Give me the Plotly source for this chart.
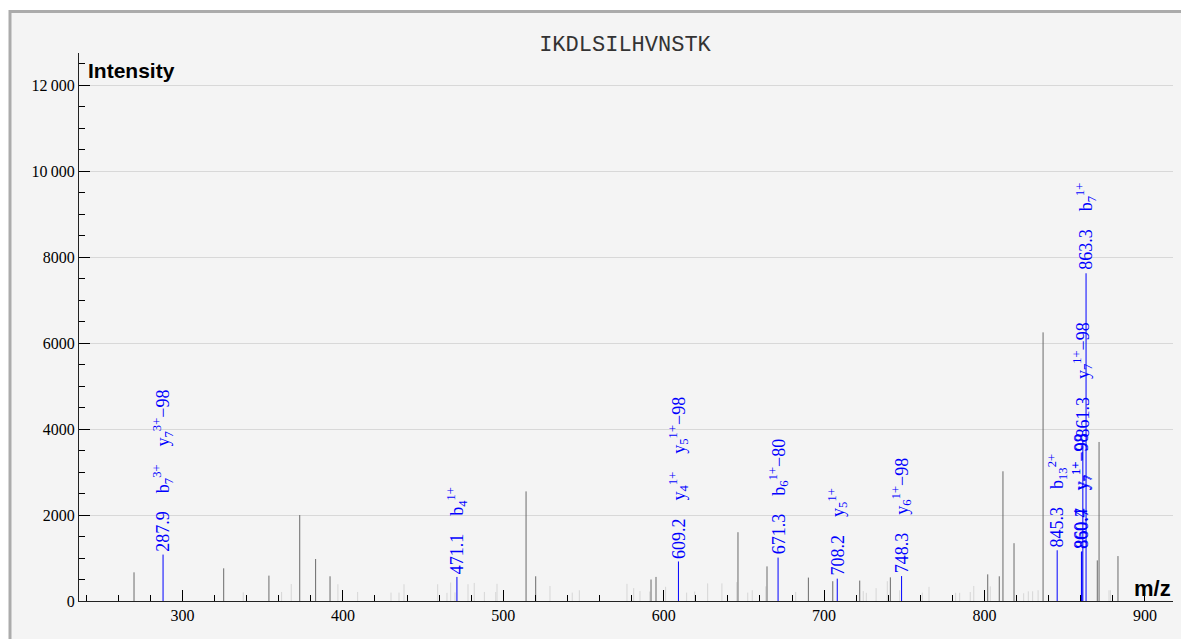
import plotly.graph_objects as go

# ---------------- data ----------------
title_text = "IKDLSILHVNSTK"

mz_dark = [269.8, 325.7, 353.9, 373.1, 383.0, 392.0, 514.2, 520.2, 592.1, 595.2,
           646.3, 664.4, 690.2, 705.4, 722.2, 741.3, 802.0, 809.2, 811.5, 818.4,
           836.5, 870.3, 871.4, 883.2]
int_dark = [667, 760, 590, 2000, 977, 575, 2550, 575, 500, 560,
            1600, 805, 545, 460, 475, 550, 620, 575, 3018, 1345,
            6250, 945, 3700, 1045]

mz_light = [337.9, 361.8, 367.8, 396.9, 409.2, 430.0, 435.0, 438.1, 459.1, 464.9,
            467.2, 469.9, 478.0, 481.9, 488.2, 495.3, 496.1, 529.1, 543.0, 547.4,
            577.1, 581.3, 585.2, 591.3, 601.2, 614.3, 619.3, 627.4, 636.3, 645.5,
            652.4, 655.2, 663.6, 682.3, 724.4, 726.3, 732.4, 739.4, 747.1, 761.2,
            765.4, 782.0, 784.5, 791.1, 793.3, 803.6, 824.4, 827.3, 830.0, 833.4,
            877.6, 878.5]
int_light = [200, 210, 395, 390, 210, 195, 195, 390, 390, 190,
             430, 200, 390, 420, 210, 210, 400, 350, 195, 250,
             400, 300, 230, 220, 330, 195, 220, 410, 410, 440,
             195, 250, 340, 210, 230, 190, 300, 460, 250, 195,
             330, 190, 190, 210, 350, 340, 180, 225, 225, 250,
             250, 250]

mz_lab = [287.9, 471.1, 609.2, 671.3, 708.2, 748.3, 845.3, 860.4, 860.7, 861.3, 863.3]
int_lab = [1080, 560, 920, 1010, 520, 580, 1180, 1140, 1160, 3740, 7625]
ions_lab = [
    ["b<sub>7</sub><sup>3+</sup>", "y<sub>7</sub><sup>3+</sup>−98"],
    ["b<sub>4</sub><sup>1+</sup>"],
    ["y<sub>4</sub><sup>1+</sup>", "y<sub>5</sub><sup>1+</sup>−98"],
    ["b<sub>6</sub><sup>1+</sup>−80"],
    ["y<sub>5</sub><sup>1+</sup>"],
    ["y<sub>6</sub><sup>1+</sup>−98"],
    ["b<sub>13</sub><sup>2+</sup>"],
    ["y<sub>7</sub><sup>1+</sup>−98"],
    ["y<sub>7</sub><sup>1+</sup>−98"],
    ["y<sub>7</sub><sup>1+</sup>−98"],
    ["b<sub>7</sub><sup>1+</sup>"],
]

x_ticks_step = 100
y_ticks_step = 2000

# ---------------- figure ----------------
W, H = 1181, 639
L, R, T, B = 79, 8, 53, 38
PW, PH = W - L - R, H - T - B


def px_x(p):
    return (p - L) / PW


def px_y(p):
    return (H - B - p) / PH


def sticks(mz, inten):
    xs, ys = [], []
    for m, h in zip(mz, inten):
        xs += [m, m, None]
        ys += [0, h, None]
    return xs, ys


fig = go.Figure()
for mz, it, col in [(mz_light, int_light, "#d6d6d6"),
                    (mz_dark, int_dark, "#6a6a6a"),
                    (mz_lab, int_lab, "#0000ff")]:
    xs, ys = sticks(mz, it)
    fig.add_trace(go.Scatter(x=xs, y=ys, mode="lines",
                             line=dict(color=col, width=1),
                             hoverinfo="skip", showlegend=False))

gap = "\u00a0" * 4
for m, h, ions in zip(mz_lab, int_lab, ions_lab):
    txt = f"{m:.1f}" + gap + gap.join(ions)
    fig.add_annotation(x=m, y=h, xref="x", yref="y", text=txt, showarrow=False,
                       textangle=-90, xanchor="center", yanchor="bottom", yshift=1,
                       font=dict(family="Liberation Serif", size=18, color="#0000ff"))

fig.add_annotation(x=px_x(86), y=px_y(70), xref="paper", yref="paper",
                   text="<b>Intensity</b>", showarrow=False, xanchor="left",
                   yanchor="middle",
                   font=dict(family="Liberation Sans", size=21, color="black"))
fig.add_annotation(x=1.0, y=px_y(588), xref="paper", yref="paper",
                   text="<b>m/z</b>", showarrow=False, xanchor="right",
                   yanchor="middle",
                   font=dict(family="Liberation Sans", size=22, color="black"))

fig.add_shape(type="rect", xref="paper", yref="paper",
              x0=px_x(10), x1=px_x(1195), y0=px_y(655), y1=px_y(11.5),
              line=dict(color="#ababab", width=3), fillcolor="#f4f4f4",
              layer="below")

fig.update_layout(
    width=W, height=H, autosize=False,
    margin=dict(l=L, r=R, t=T, b=B, pad=0),
    paper_bgcolor="white", plot_bgcolor="rgba(0,0,0,0)",
    separators=".\u2009",
    title=dict(text=title_text, x=px_x(625), xref="paper", xanchor="center",
               y=1 - 43 / H, yanchor="middle",
               font=dict(family="Liberation Mono", size=22, color="#333")),
    font=dict(family="Liberation Serif", size=16, color="black"),
)
fig.update_xaxes(range=[235.5, 917.5], dtick=x_ticks_step, tick0=0,
                 ticks="inside", ticklen=11, tickcolor="black", tickwidth=1,
                 showline=True, linecolor="#222", linewidth=1,
                 showgrid=False, zeroline=False,
                 tickfont=dict(family="Liberation Serif", size=16, color="black"),
                 minor=dict(dtick=20, tick0=0, ticks="inside", ticklen=6,
                            tickcolor="black", showgrid=False))
fig.update_yaxes(range=[0, 12750], dtick=y_ticks_step, tick0=0,
                 ticks="inside", ticklen=11, tickcolor="black", tickwidth=1,
                 showline=True, linecolor="#222", linewidth=1,
                 showgrid=True, gridcolor="#d8d8d8", gridwidth=1,
                 zeroline=False, exponentformat="none",
                 tickfont=dict(family="Liberation Serif", size=16, color="black"),
                 minor=dict(dtick=500, tick0=0, ticks="inside", ticklen=6,
                            tickcolor="black", showgrid=False))

fig.write_html("out.html", config={"displayModeBar": False},
               post_script="document.body.style.margin='0';")
